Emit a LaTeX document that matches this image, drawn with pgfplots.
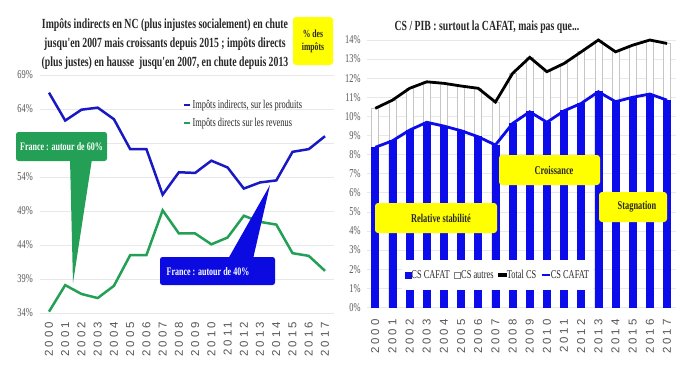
\documentclass[border=0pt]{standalone}
\usepackage{fontspec}
\setmainfont{Liberation Serif}
\newfontfamily\cond[FakeStretch=0.7]{Liberation Serif}
\newfontfamily\yearfont[LetterSpace=25]{Liberation Sans}
\usepackage{pgfplots}
\pgfplotsset{compat=1.18}
\definecolor{bl}{RGB}{25,25,195}
\definecolor{gr}{RGB}{35,160,85}
\definecolor{barblue}{RGB}{12,12,235}
\definecolor{boxblue}{RGB}{10,10,225}
\definecolor{yel}{RGB}{255,255,0}
\definecolor{tickc}{RGB}{85,85,85}
\definecolor{titc}{RGB}{40,40,40}
\begin{document}
\begin{tikzpicture}
\path[use as bounding box, fill=white] (0,0) rectangle (684bp,-384bp);
% ---------------- left panel
\begin{axis}[
  at={(40bp,-313bp)}, anchor=south west, scale only axis,
  width=294bp, height=238bp,
  xmin=1999.446, xmax=2017.554, ymin=34, ymax=69,
  clip=false,
  axis line style={draw=none}, major tick length=0pt,
  ytick={34,39,...,69},
  yticklabels={34\%,39\%,44\%,49\%,54\%,{},64\%,69\%},
  ymajorgrids, grid style={gray!18, line width=0.6bp},
  xtick={2000,...,2017},
  xticklabels={2000,2001,2002,2003,2004,2005,2006,2007,2008,2009,2010,2011,2012,2013,2014,2015,2016,2017},
  xticklabel style={rotate=90, anchor=east, inner sep=0pt, font=\yearfont\fontsize{11.5}{11.5}\selectfont, text=tickc},
  xticklabel shift=9bp,
  yticklabel style={anchor=east, inner sep=0pt, font=\cond\fontsize{12}{12}\selectfont, text=tickc},
  yticklabel shift=7bp,
  legend style={at={(0.486,0.899)}, anchor=north west, draw=none, fill=none, inner sep=0pt,
    font=\cond\fontsize{12}{12}\selectfont, text=titc,
    nodes={inner sep=1bp, text height=8bp, text depth=2bp}, row sep=6bp},
  legend cell align=left,
  legend image code/.code={\draw[#1, line width=2.5bp] (0bp,0bp) -- (6bp,0bp);},
]
\addplot[bl, line width=2.5bp] coordinates {
(2000,66.4) (2001,62.3) (2002,63.9) (2003,64.2) (2004,62.5) (2005,58.1)
(2006,58.1) (2007,51.4) (2008,54.7) (2009,54.6) (2010,56.4) (2011,55.4)
(2012,52.3) (2013,53.2) (2014,53.5) (2015,57.7) (2016,58.1) (2017,60.0)};
\addlegendentry{Impôts indirects, sur les produits}
\addplot[gr, line width=2.5bp] coordinates {
(2000,34.2) (2001,38.1) (2002,36.8) (2003,36.2) (2004,38.0) (2005,42.5)
(2006,42.5) (2007,49.1) (2008,45.7) (2009,45.7) (2010,44.1) (2011,45.1)
(2012,48.3) (2013,47.4) (2014,47.0) (2015,42.8) (2016,42.4) (2017,40.2)};
\addlegendentry{Impôts directs sur les revenus}
\end{axis}
% ---------------- right panel
\begin{axis}[
  at={(366.7bp,-307.3bp)}, anchor=south west, scale only axis,
  width=308.9bp, height=267.3bp,
  xmin=1999.5, xmax=2017.5, ymin=0, ymax=14,
  clip=false,
  axis line style={draw=none}, major tick length=0pt,
  ytick={0,1,...,14},
  yticklabels={0\%,1\%,2\%,3\%,4\%,5\%,6\%,7\%,8\%,9\%,10\%,11\%,12\%,13\%,14\%},
  ymajorgrids, grid style={gray!18, line width=0.6bp},
  xtick={2000,...,2017},
  xticklabels={2000,2001,2002,2003,2004,2005,2006,2007,2008,2009,2010,2011,2012,2013,2014,2015,2016,2017},
  xticklabel style={rotate=90, anchor=east, inner sep=0pt, font=\yearfont\fontsize{11.5}{11.5}\selectfont, text=tickc},
  xticklabel shift=12bp,
  yticklabel style={anchor=east, inner sep=0pt, font=\cond\fontsize{12}{12}\selectfont, text=tickc},
  yticklabel shift=6bp,
  legend style={at={(0.422,0.121)}, anchor=center, draw=none, fill=white,
    inner xsep=3bp, inner ysep=10bp,
    font=\cond\fontsize{12}{12}\selectfont, text=titc,
    nodes={inner sep=0.5bp},
    /tikz/every even column/.append style={column sep=4bp}},
  legend columns=4,
]
\addplot[ybar, bar width=7bp, bar shift=0pt, fill=white, draw=gray!45, line width=0.7bp, forget plot] coordinates {
(2000,10.42) (2001,10.85) (2002,11.47) (2003,11.81) (2004,11.73) (2005,11.59)
(2006,11.47) (2007,10.75) (2008,12.25) (2009,13.09) (2010,12.34) (2011,12.77)
(2012,13.38) (2013,14.00) (2014,13.38) (2015,13.73) (2016,14.00) (2017,13.82)};
\addplot[ybar, bar width=7bp, bar shift=0pt, fill=barblue, draw=barblue, line width=0.7bp, forget plot] coordinates {
(2000,8.38) (2001,8.72) (2002,9.28) (2003,9.69) (2004,9.49) (2005,9.25)
(2006,8.93) (2007,8.50) (2008,9.63) (2009,10.24) (2010,9.69) (2011,10.29)
(2012,10.68) (2013,11.29) (2014,10.77) (2015,11.00) (2016,11.17) (2017,10.85)};
\addplot[black, line width=2.8bp, forget plot] coordinates {
(2000,10.42) (2001,10.85) (2002,11.47) (2003,11.81) (2004,11.73) (2005,11.59)
(2006,11.47) (2007,10.75) (2008,12.25) (2009,13.09) (2010,12.34) (2011,12.77)
(2012,13.38) (2013,14.00) (2014,13.38) (2015,13.73) (2016,14.00) (2017,13.82)};
\addplot[barblue, line width=2.8bp, forget plot] coordinates {
(2000,8.38) (2001,8.72) (2002,9.28) (2003,9.69) (2004,9.49) (2005,9.25)
(2006,8.93) (2007,8.50) (2008,9.63) (2009,10.24) (2010,9.69) (2011,10.29)
(2012,10.68) (2013,11.29) (2014,10.77) (2015,11.00) (2016,11.17) (2017,10.85)};
\addlegendimage{legend image code/.code={\fill[barblue] (0bp,-3bp) rectangle (6bp,3bp);}}
\addlegendentry{CS CAFAT}
\addlegendimage{legend image code/.code={\draw[gray, line width=0.5bp, fill=white] (0bp,-3bp) rectangle (6bp,3bp);}}
\addlegendentry{CS autres}
\addlegendimage{legend image code/.code={\fill[black] (0bp,-1.6bp) rectangle (8bp,1.6bp);}}
\addlegendentry{Total CS}
\addlegendimage{legend image code/.code={\draw[barblue, line width=1.5bp] (0bp,0bp) -- (8bp,0bp);}}
\addlegendentry{CS CAFAT}
\end{axis}
% ---------------- annotations
\node[align=center, text=titc, font=\cond\bfseries\fontsize{14}{19}\selectfont] at (165bp,-44bp)
  {Impôts indirects en NC (plus injustes socialement) en chute\\
   jusqu'en 2007 mais croissants depuis 2015 ; impôts directs\\
   (plus justes) en hausse\ \ jusqu'en 2007, en chute depuis 2013};
\fill[yel, rounded corners=3bp] (293bp,-17bp) rectangle (333bp,-65bp);
\node[align=center, text=titc, font=\cond\bfseries\fontsize{11}{13}\selectfont] at (313bp,-41bp) {\% des\\impôts};
% green callout
\fill[gr] (70bp,-159bp) -- (92bp,-159bp) -- (73bp,-283bp) -- cycle;
\fill[gr, rounded corners=2.5bp] (16bp,-132bp) rectangle (107bp,-161bp);
\node[text=white, font=\cond\bfseries\fontsize{11.5}{12}\selectfont] at (61.5bp,-146.5bp) {France : autour de 60\%};
% blue callout
\fill[boxblue] (228bp,-259bp) -- (253bp,-259bp) -- (270bp,-185bp) -- cycle;
\fill[boxblue, rounded corners=2.5bp] (160bp,-257bp) rectangle (275bp,-285bp);
\node[text=white, font=\cond\bfseries\fontsize{11.5}{12}\selectfont] at (208bp,-271.5bp) {France : autour de 40\%};
% right title
\node[text=titc, font=\cond\bfseries\fontsize{14}{16}\selectfont] at (487bp,-27bp) {CS / PIB : surtout la CAFAT, mais pas que...};
% yellow boxes right
\fill[yel, rounded corners=3bp] (375bp,-203bp) rectangle (497bp,-233bp);
\node[text=titc, font=\cond\bfseries\fontsize{12}{12}\selectfont] at (441bp,-218bp) {Relative stabilité};
\fill[yel, rounded corners=3bp] (499bp,-155bp) rectangle (600bp,-185bp);
\node[text=titc, font=\cond\bfseries\fontsize{12}{12}\selectfont] at (554bp,-170bp) {Croissance};
\fill[yel, rounded corners=3bp] (599bp,-192bp) rectangle (667bp,-222bp);
\node[text=titc, font=\cond\bfseries\fontsize{12}{12}\selectfont] at (637bp,-207bp) {Stagnation};
\end{tikzpicture}
\end{document}
